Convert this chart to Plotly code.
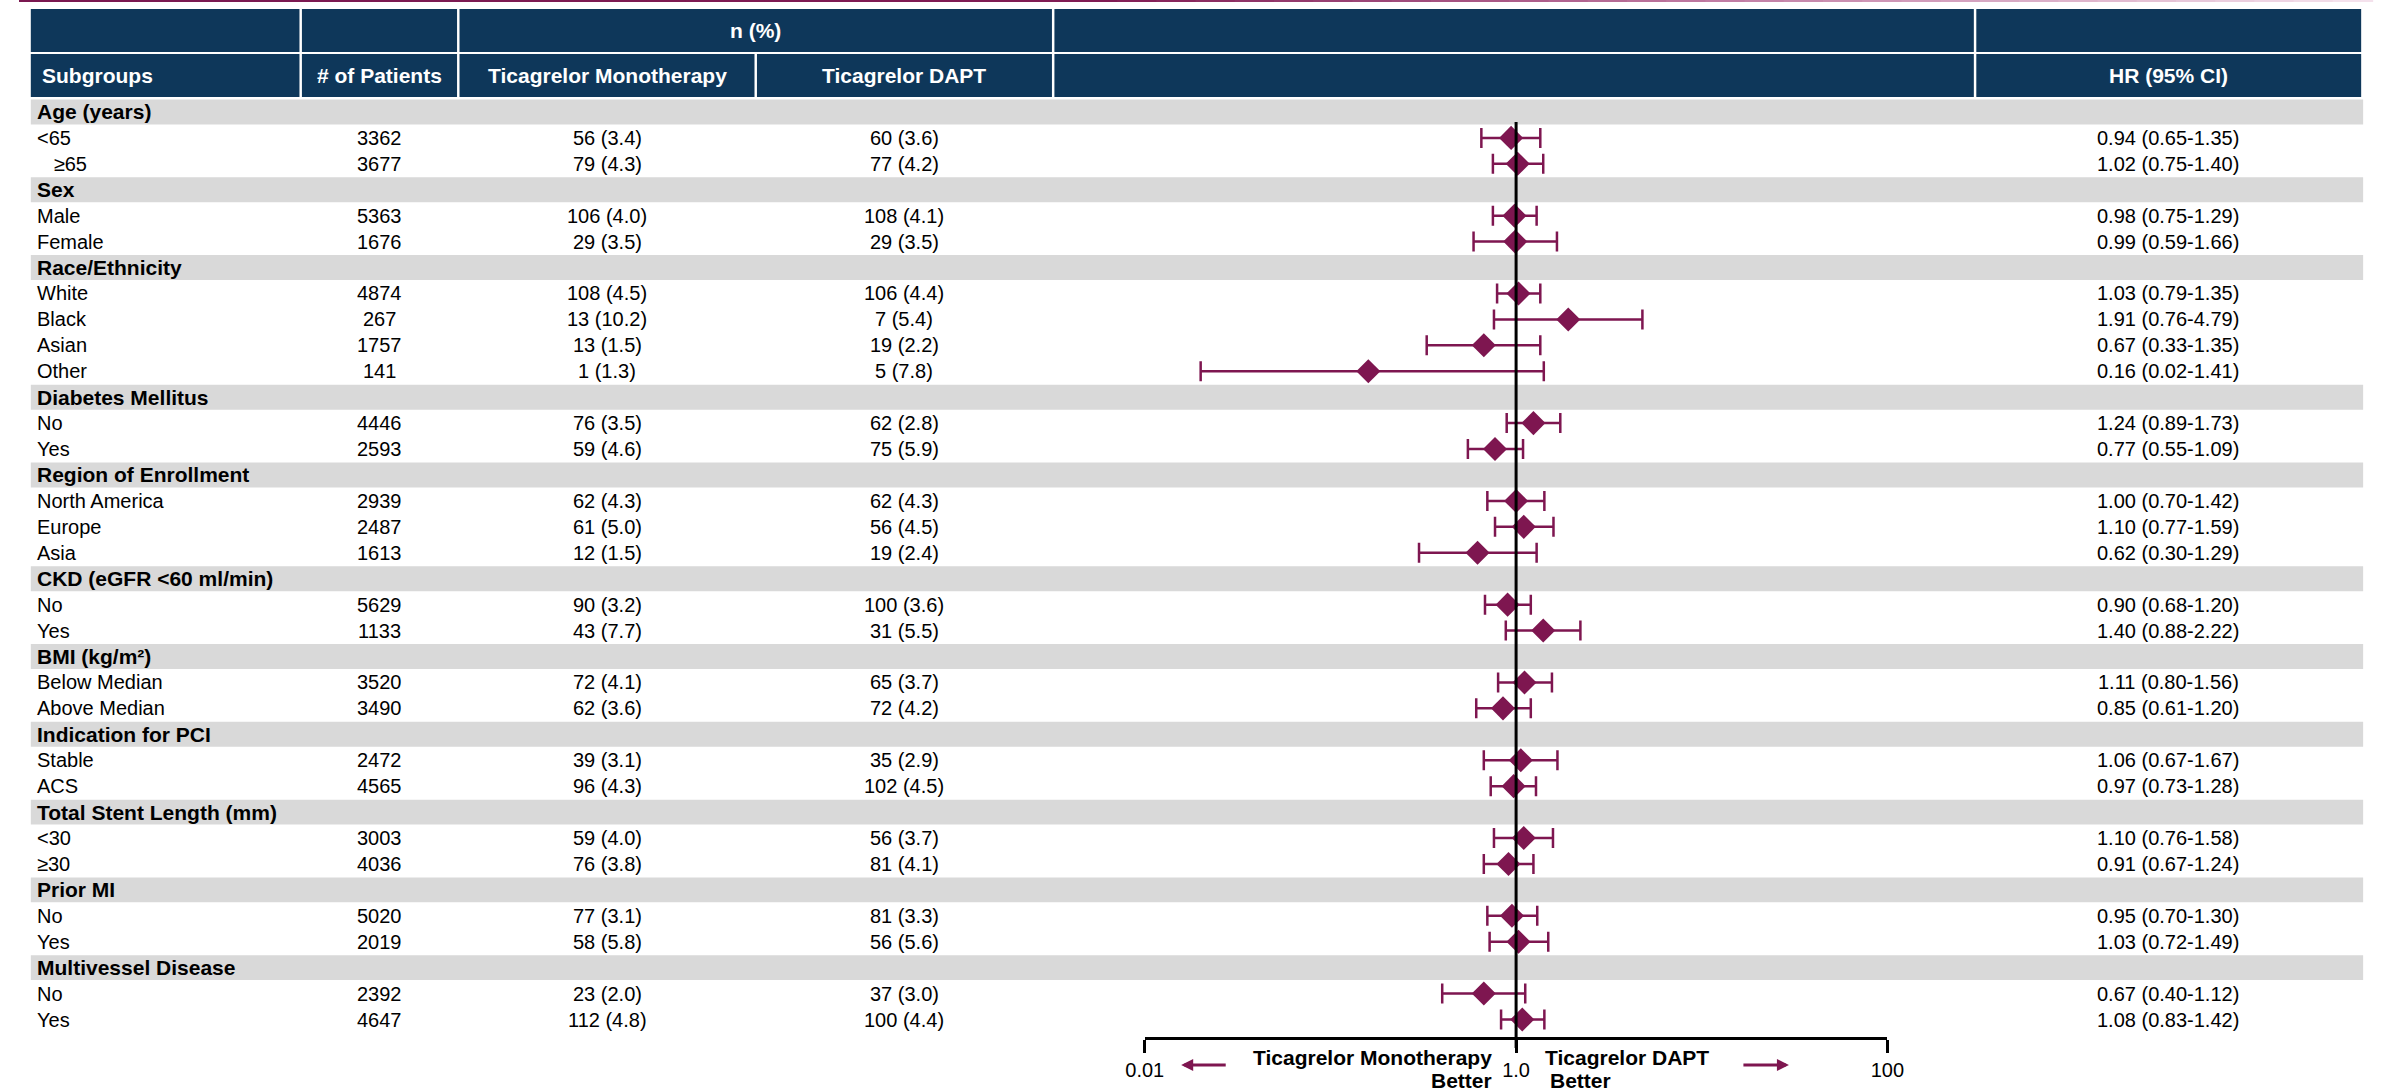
import plotly.graph_objects as go

# ---------------------------------------------------------------------------
# Subgroup table (None marks a category heading row)
# ---------------------------------------------------------------------------
subgroups = [
    "Age (years)", "<65", "\u00a0\u00a0\u00a0≥65",
    "Sex", "Male", "Female",
    "Race/Ethnicity", "White", "Black", "Asian", "Other",
    "Diabetes Mellitus", "No", "Yes",
    "Region of Enrollment", "North America", "Europe", "Asia",
    "CKD (eGFR <60 ml/min)", "No", "Yes",
    "BMI (kg/m²)", "Below Median", "Above Median",
    "Indication for PCI", "Stable", "ACS",
    "Total Stent Length (mm)", "<30", "≥30",
    "Prior MI", "No", "Yes",
    "Multivessel Disease", "No", "Yes",
]
patients = [None, 3362, 3677, None, 5363, 1676, None, 4874, 267, 1757, 141,
            None, 4446, 2593, None, 2939, 2487, 1613, None, 5629, 1133,
            None, 3520, 3490, None, 2472, 4565, None, 3003, 4036,
            None, 5020, 2019, None, 2392, 4647]
mono_n = [None, 56, 79, None, 106, 29, None, 108, 13, 13, 1,
          None, 76, 59, None, 62, 61, 12, None, 90, 43,
          None, 72, 62, None, 39, 96, None, 59, 76,
          None, 77, 58, None, 23, 112]
mono_pct = [None, 3.4, 4.3, None, 4.0, 3.5, None, 4.5, 10.2, 1.5, 1.3,
            None, 3.5, 4.6, None, 4.3, 5.0, 1.5, None, 3.2, 7.7,
            None, 4.1, 3.6, None, 3.1, 4.3, None, 4.0, 3.8,
            None, 3.1, 5.8, None, 2.0, 4.8]
dapt_n = [None, 60, 77, None, 108, 29, None, 106, 7, 19, 5,
          None, 62, 75, None, 62, 56, 19, None, 100, 31,
          None, 65, 72, None, 35, 102, None, 56, 81,
          None, 81, 56, None, 37, 100]
dapt_pct = [None, 3.6, 4.2, None, 4.1, 3.5, None, 4.4, 5.4, 2.2, 7.8,
            None, 2.8, 5.9, None, 4.3, 4.5, 2.4, None, 3.6, 5.5,
            None, 3.7, 4.2, None, 2.9, 4.5, None, 3.7, 4.1,
            None, 3.3, 5.6, None, 3.0, 4.4]
hr = [None, 0.94, 1.02, None, 0.98, 0.99, None, 1.03, 1.91, 0.67, 0.16,
      None, 1.24, 0.77, None, 1.00, 1.10, 0.62, None, 0.90, 1.40,
      None, 1.11, 0.85, None, 1.06, 0.97, None, 1.10, 0.91,
      None, 0.95, 1.03, None, 0.67, 1.08]
hr_lo = [None, 0.65, 0.75, None, 0.75, 0.59, None, 0.79, 0.76, 0.33, 0.02,
         None, 0.89, 0.55, None, 0.70, 0.77, 0.30, None, 0.68, 0.88,
         None, 0.80, 0.61, None, 0.67, 0.73, None, 0.76, 0.67,
         None, 0.70, 0.72, None, 0.40, 0.83]
hr_hi = [None, 1.35, 1.40, None, 1.29, 1.66, None, 1.35, 4.79, 1.35, 1.41,
         None, 1.73, 1.09, None, 1.42, 1.59, 1.29, None, 1.20, 2.22,
         None, 1.56, 1.20, None, 1.67, 1.28, None, 1.58, 1.24,
         None, 1.30, 1.49, None, 1.12, 1.42]

header_top = ["", "", "n (%)", "", ""]
header_cols = ["Subgroups", "# of Patients", "Ticagrelor Monotherapy",
               "Ticagrelor DAPT", "", "HR (95% CI)"]
tick_vals = [0.01, 1, 100]
tick_text = ["0.01", "1.0", "100"]
favours_left = ["Ticagrelor Monotherapy", "Better"]
favours_right = ["Ticagrelor DAPT", "Better"]

# ---------------------------------------------------------------------------
# Styling / geometry (pixels)
# ---------------------------------------------------------------------------
W, H = 2389, 1092
NAVY = "#0E375A"
BAND = "#D9D9D9"
WINE = "#7E1650"
FONT = "Liberation Sans, Arial, Helvetica, sans-serif"
FS = 20
FS_B = 21

BODY_TOP = 99          # first body row's upper edge
ROW_H = 25.93
EDGES = [12, 286, 446, 748, 1050, 1986, 2378]
HDR1 = (9, 52)
HDR2 = (54, 97)
AXIS_Y = 1038
PLOT_X = (1143, 1897)
GAP = 1.25


def px(x):
    return x / W


def py(y):
    return 1 - y / H


def bold_font(color="black"):
    return dict(family=FONT, size=FS_B, color=color, weight="bold")


def plain_font(color="black"):
    return dict(family=FONT, size=FS, color=color)


n_rows = len(subgroups)
rows = list(range(n_rows))
is_head = [p is None for p in patients]
data_rows = [i for i in rows if not is_head[i]]

fig = go.Figure()

# CI whiskers + diamonds
fig.add_trace(go.Scatter(
    x=[hr[i] for i in data_rows],
    y=[i for i in data_rows],
    mode="markers",
    marker=dict(symbol="diamond", size=18.5, color=WINE, line=dict(width=0)),
    error_x=dict(
        type="data", symmetric=False,
        array=[hr_hi[i] - hr[i] for i in data_rows],
        arrayminus=[hr[i] - hr_lo[i] for i in data_rows],
        color=WINE, thickness=2.5, width=10,
    ),
    hoverinfo="skip",
    showlegend=False,
))

shapes = []
annotations = []

# thin accent rule along the top edge, fading to the right
stops = [(0, (122, 24, 80)), (1100, (128, 28, 84)), (1700, (190, 120, 160)),
         (2389, (246, 228, 238))]
n_seg = 60
for k in range(n_seg):
    x0 = W * k / n_seg
    x1 = W * (k + 1) / n_seg
    xm = (x0 + x1) / 2
    for (a, ca), (b, cb) in zip(stops[:-1], stops[1:]):
        if a <= xm <= b:
            t = (xm - a) / (b - a)
            c = tuple(round(ca[j] + (cb[j] - ca[j]) * t) for j in range(3))
            break
    shapes.append(dict(type="rect", xref="paper", yref="paper",
                       x0=px(x0), x1=px(x1) + 0.0005, y0=py(2), y1=py(0),
                       fillcolor="rgb(%d,%d,%d)" % c, line=dict(width=0),
                       layer="below"))


def cell(x0, x1, y0, y1):
    shapes.append(dict(type="rect", xref="paper", yref="paper",
                       x0=px(x0), x1=px(x1), y0=py(y1), y1=py(y0),
                       fillcolor=NAVY, line=dict(width=0), layer="below"))


# header row 1: merged n (%) cell
row1_edges = [EDGES[0], EDGES[1], EDGES[2], EDGES[4], EDGES[5], EDGES[6]]
for k in range(len(row1_edges) - 1):
    a = row1_edges[k] + (GAP if k > 0 else 0)
    b = row1_edges[k + 1] - (GAP if k < len(row1_edges) - 2 else 0)
    cell(a, b, *HDR1)
    if header_top[k]:
        annotations.append(dict(
            x=px((row1_edges[k] + row1_edges[k + 1]) / 2), y=py(sum(HDR1) / 2),
            xref="paper", yref="paper", text=header_top[k], showarrow=False,
            font=bold_font("white"), xanchor="center", yanchor="middle"))

# header row 2
for k in range(len(EDGES) - 1):
    a = EDGES[k] + (GAP if k > 0 else 0)
    b = EDGES[k + 1] - (GAP if k < len(EDGES) - 2 else 0)
    cell(a, b, *HDR2)
    if header_cols[k]:
        left = k == 0
        annotations.append(dict(
            x=px(21 if left else (EDGES[k] + EDGES[k + 1]) / 2),
            y=py(sum(HDR2) / 2),
            xref="paper", yref="paper", text=header_cols[k], showarrow=False,
            font=bold_font("white"),
            xanchor="left" if left else "center", yanchor="middle"))

# body rows
col_centers = [(EDGES[1] + EDGES[2]) / 2, (EDGES[2] + EDGES[3]) / 2,
               (EDGES[3] + EDGES[4]) / 2, (EDGES[5] + EDGES[6]) / 2]
for i in rows:
    if is_head[i]:
        shapes.append(dict(type="rect", xref="paper", yref="y",
                           x0=px(12), x1=px(2380), y0=i - 0.48, y1=i + 0.48,
                           fillcolor=BAND, line=dict(width=0), layer="below"))
        annotations.append(dict(
            x=px(16), y=i, xref="paper", yref="y", text=subgroups[i],
            showarrow=False, font=bold_font(),
            xanchor="left", yanchor="middle"))
        continue
    annotations.append(dict(
        x=px(16), y=i, xref="paper", yref="y", text=subgroups[i],
        showarrow=False, font=plain_font(),
        xanchor="left", yanchor="middle"))
    cells = [
        f"{patients[i]}",
        f"{mono_n[i]} ({mono_pct[i]:.1f})",
        f"{dapt_n[i]} ({dapt_pct[i]:.1f})",
        f"{hr[i]:.2f} ({hr_lo[i]:.2f}-{hr_hi[i]:.2f})",
    ]
    for cx, txt in zip(col_centers, cells):
        annotations.append(dict(
            x=px(cx), y=i, xref="paper", yref="y", text=txt, showarrow=False,
            font=plain_font(), xanchor="center", yanchor="middle"))

# line of no effect (drawn above the markers)
shapes.append(dict(type="line", xref="x", yref="paper", x0=1, x1=1,
                   y0=py(AXIS_Y + 10), y1=py(BODY_TOP + 23),
                   line=dict(color="black", width=3), layer="above"))

# favour labels and arrows beneath the axis
for k, t in enumerate(favours_left):
    annotations.append(dict(
        x=px(1498), y=py(1057 + 23 * k), xref="paper", yref="paper", text=t,
        showarrow=False, font=bold_font(),
        xanchor="right", yanchor="middle"))
for k, t in enumerate(favours_right):
    annotations.append(dict(
        x=px(1547 + 5 * k), y=py(1057 + 23 * k), xref="paper", yref="paper",
        text=t, showarrow=False, font=bold_font(),
        xanchor="left", yanchor="middle"))
for head, tail in [(1180, 1226), (1797, 1750)]:
    annotations.append(dict(
        x=px(head), y=py(1065), xref="paper", yref="paper", text="",
        showarrow=True, ax=tail - head, ay=0, axref="pixel", ayref="pixel",
        arrowhead=2, arrowsize=0.8, arrowwidth=3, arrowcolor=WINE))

y_lo = (H - BODY_TOP) / ROW_H - 0.5
fig.update_layout(
    width=W, height=H,
    margin=dict(l=0, r=0, t=0, b=0),
    paper_bgcolor="white",
    plot_bgcolor="rgba(0,0,0,0)",
    showlegend=False,
    shapes=shapes,
    annotations=annotations,
    xaxis=dict(
        type="log", range=[-2, 2],
        domain=[px(PLOT_X[0]), px(PLOT_X[1])],
        anchor="free", position=py(AXIS_Y),
        showline=True, linecolor="black", linewidth=3,
        ticks="outside", ticklen=13, tickwidth=3, tickcolor="black",
        tickvals=tick_vals, ticktext=tick_text,
        tickfont=plain_font(),
        showgrid=False, zeroline=False, fixedrange=True,
    ),
    yaxis=dict(
        range=[y_lo, -0.5], domain=[0, py(BODY_TOP)],
        visible=False, showgrid=False, zeroline=False, fixedrange=True,
    ),
)

fig.write_html("out.html")
